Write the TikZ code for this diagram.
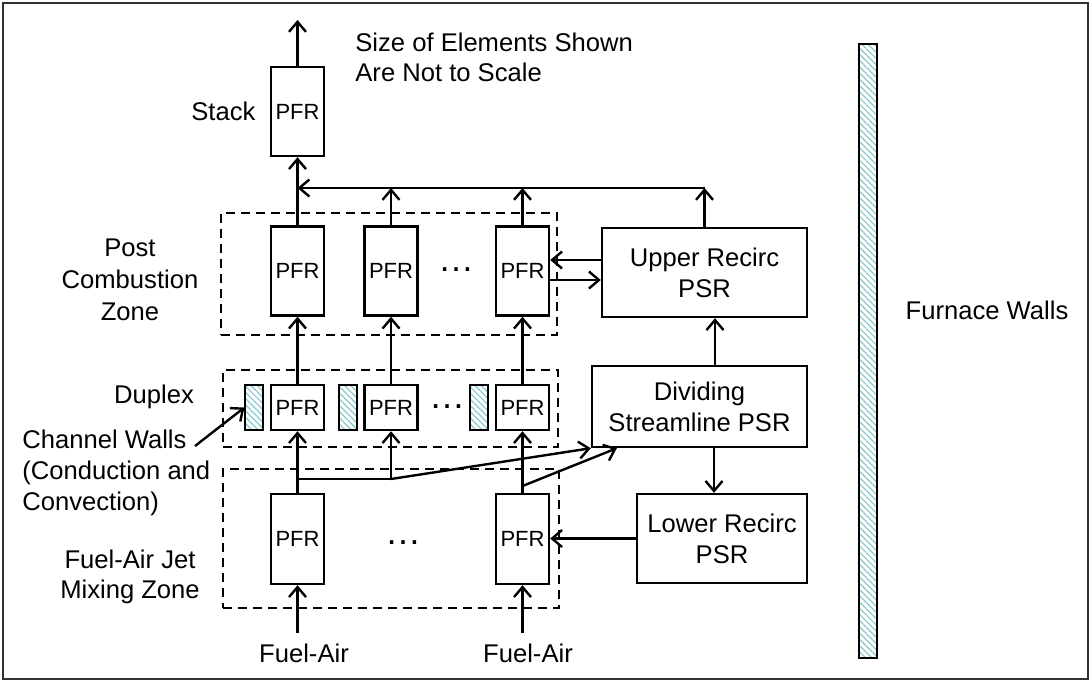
\documentclass[tikz,border=0pt]{standalone}
\usepackage{fontspec}
\setmainfont{Liberation Sans}
\usepackage{xcolor}
\usepackage{tikz}
\usetikzlibrary{arrows.meta, positioning, patterns.meta}
\definecolor{hatchblue}{RGB}{135,200,205}

\begin{document}
\begin{tikzpicture}[
    x=0.5pt, y=-0.5pt,
    pfr/.style={rectangle, draw=black, line width=1.2pt, minimum width=26.5pt, minimum height=44.5pt, inner sep=0pt, font=\fontsize{11}{12}\selectfont},
    psr/.style={rectangle, draw=black, line width=1.2pt, align=center, inner sep=0pt, font=\fontsize{12.8}{15.5}\selectfont},
    wall/.style={rectangle, draw=black, line width=1.2pt, pattern={Lines[angle=-45, distance=2.2pt, line width=0.6pt]}, pattern color=hatchblue, minimum width=9pt, inner sep=0pt},
    zone/.style={rectangle, draw=black, line width=1.2pt, dash pattern=on 4.5pt off 3pt, inner sep=0pt},
    txt/.style={inner sep=0pt, font=\fontsize{12.8}{15.5}\selectfont},
    dots/.style={inner sep=0pt, font=\fontsize{18}{18}\selectfont},
    arrow/.style={-{Straight Barb[length=5pt, width=8.5pt]}, line width=1.2pt},
    link/.style={line width=1.2pt}
]
\useasboundingbox (0,0) rectangle (1091,682);
\draw[line width=0.9pt, black!80] (3,3) rectangle (1088,679);

% zones
\node (postzone) [zone, minimum width=168pt, minimum height=61pt] at (389,274) {};
\node (dupzone) [zone, minimum width=167.5pt, minimum height=38.5pt] at (390.5,408.5) {};
\node (mixzone) [zone, minimum width=168pt, minimum height=69.5pt] at (391,538.5) {};

% reactors
\node (stack) [pfr] at (297.5,111.5) {PFR};
\node (postA) [pfr] at (297.5,271) {PFR};
\node (postB) [pfr] at (391,271) {PFR};
\node (postC) [pfr] at (522.5,271) {PFR};
\node (dupA) [pfr, minimum height=22.5pt] at (297.5,407.5) {PFR};
\node (dupB) [pfr, minimum height=22.5pt] at (391,407.5) {PFR};
\node (dupC) [pfr, minimum height=22.5pt] at (522.5,407.5) {PFR};
\node (wallA) [wall, minimum height=22.5pt] at (254,407.5) {};
\node (wallB) [wall, minimum height=22.5pt] at (348,407.5) {};
\node (wallC) [wall, minimum height=22.5pt] at (479,407.5) {};
\node (mixA) [pfr, minimum height=45pt] at (297.5,539) {PFR};
\node (mixB) [pfr, minimum height=45pt] at (522.5,539) {PFR};
\node (uprpsr) [psr, minimum width=102.5pt, minimum height=44.5pt] at (704.5,272.5) {Upper Recirc\\PSR};
\node (divpsr) [psr, minimum width=107.5pt, minimum height=40.5pt] at (699.5,406.5) {Dividing\\Streamline PSR};
\node (lowpsr) [psr, minimum width=85pt, minimum height=44.5pt] at (722,538.5) {Lower Recirc\\PSR};
\node (furnace) [wall, minimum height=307pt] at (868,351) {};

\node (dotsP) [dots] at (456,270) {…};
\node (dotsD) [dots] at (447,407) {…};
\node (dotsM) [dots] at (403,543) {…};

% labels
\node (note) [txt, align=left, anchor=west, font=\fontsize{12.8}{15}\selectfont] at (355,57) {Size of Elements Shown\\Are Not to Scale};
\node (stacklbl) [txt, left=7pt of stack] {Stack};
\node (postlbl) [txt, align=center, font=\fontsize{12.8}{16}\selectfont] at (130,280) {Post\\Combustion\\Zone};
\node (duplbl) [txt] at (154,397) {Duplex};
\node (chwall) [txt, align=left, anchor=west] at (22,473) {Channel Walls\\(Conduction and\\Convection)};
\node (mixlbl) [txt, align=center, font=\fontsize{12.8}{15}\selectfont] at (130,577) {Fuel-Air Jet\\Mixing Zone};
\node (fuelA) [txt] at (304,653) {Fuel-Air};
\node (fuelB) [txt] at (528,653) {Fuel-Air};
\node (furnlbl) [txt] at (987,310) {Furnace Walls};

% flows
\coordinate (stackout) at (297.5,20);
\coordinate (cjoin) at (297.5,188);
\coordinate (splitA) at (297.5,479);
\coordinate (splitB) at (391,479);
\coordinate (splitC) at (522.5,486);
\coordinate (cwtail) at (195,446);
\draw [arrow] (stack.north) -- (stackout);
\draw [arrow] (postA.north) -- (stack.south);
\draw [arrow] (uprpsr.north |- cjoin) -- (cjoin);
\foreach \n in {postB, postC, uprpsr}
    \draw [arrow] (\n.north) -- (\n.north |- cjoin);
\draw [arrow] ([yshift=6.25pt]uprpsr.west) -- ([yshift=6.25pt]uprpsr.west -| postC.east);
\draw [arrow] ([yshift=-4.5pt]postC.east) -- ([yshift=-4.5pt]postC.east -| uprpsr.west);
\draw [arrow] (divpsr.north -| 715,0) -- (uprpsr.south -| 715,0);
\draw [arrow] (divpsr.south -| 714,0) -- (lowpsr.north -| 714,0);
\draw [arrow] (lowpsr.west) -- (lowpsr.west -| mixB.east);
\foreach \d/\p in {dupA/postA, dupB/postB, dupC/postC}
    \draw [arrow] (\d.north) -- (\p.south);
\draw [arrow] (mixA.north) -- (dupA.south);
\draw [arrow] (mixB.north) -- (dupC.south);
\draw [link] (splitA) -- (splitB);
\draw [arrow] (splitB) -- (dupB.south);
\draw [arrow] (splitB) -- (divpsr.south west);
\draw [arrow] (splitC) -- ([xshift=13pt]divpsr.south west);
\draw [arrow] ([yshift=5pt]fuelA.north -| mixA.south) -- (mixA.south);
\draw [arrow] ([yshift=5pt]fuelB.north -| mixB.south) -- (mixB.south);
\draw [arrow] (cwtail) -- (wallA.west);
\end{tikzpicture}
\end{document}
